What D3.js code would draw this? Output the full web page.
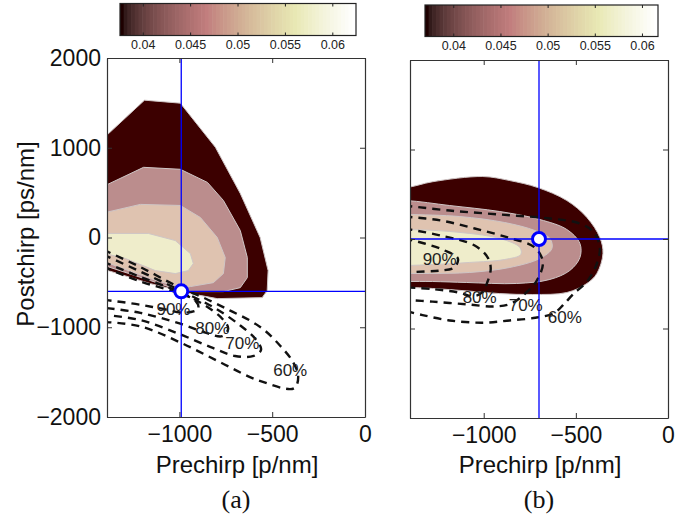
<!DOCTYPE html>
<html><head><meta charset="utf-8">
<script src="https://cdn.jsdelivr.net/npm/d3@7"></script>
<style>body{margin:0;background:#fff}svg{display:block}</style>
</head><body>
<svg id="c" width="687" height="516"></svg>
<script>
// ---------- data ----------
const xTicks = [-1000, -500, 0];
const yTicks = [2000, 1000, 0, -1000, -2000];
const cbTicks = [0.04, 0.045, 0.05, 0.055, 0.06];
const climA = [0.0376, 0.0625];
const climB = [0.0370, 0.0617];
const markerA = [-990, -600];
const markerB = [-700, 0];

// filled contour regions, panel (a)  [prechirp, postchirp]
const aLevel1 = [[-1420,1084],[-1188,1530],[-995,1497],[-806,1005],[-672,491],[-565,0],[-522,-369],[-527,-592],[-554,-670],[-796,-681],[-941,-625],[-1156,-514],[-1420,-346]];
const aLevel2 = [[-1420,559],[-1193,782],[-995,760],[-849,614],[-763,413],[-672,78],[-634,-223],[-634,-447],[-672,-559],[-763,-603],[-925,-603],[-995,-592],[-1156,-480],[-1420,-302]];
const aLevel3 = [[-1420,268],[-1210,369],[-995,357],[-887,223],[-796,0],[-753,-223],[-763,-402],[-817,-503],[-941,-547],[-995,-559],[-1156,-458],[-1420,-257]];
const aLevel4 = [[-1420,45],[-1167,45],[-1022,-34],[-941,-179],[-925,-290],[-952,-369],[-1022,-402],[-1129,-369],[-1290,-235],[-1420,-168]];

// filled contour regions, panel (b)
const bLevel1 = [[-1420,575],[-1277,640],[-1005,698],[-859,653],[-707,575],[-549,430],[-440,240],[-370,17],[-353,-162],[-386,-385],[-440,-497],[-549,-598],[-734,-620],[-913,-610],[-1092,-580],[-1277,-553],[-1420,-542],[-1600,-542],[-1600,575]];
const bLevel2 = [[-1420,430],[-1185,374],[-913,307],[-696,218],[-549,106],[-478,-50],[-478,-207],[-533,-352],[-641,-452],[-821,-497],[-1092,-486],[-1277,-475],[-1420,-475],[-1600,-475],[-1600,430]];
const bLevel3 = [[-1420,274],[-1130,251],[-886,184],[-723,95],[-641,6],[-630,-106],[-696,-218],[-859,-318],[-1076,-374],[-1293,-385],[-1420,-385],[-1600,-385],[-1600,274]];
const bLevel4 = [[-1420,106],[-1185,84],[-913,6],[-804,-95],[-799,-173],[-886,-229],[-1076,-262],[-1277,-285],[-1420,-296],[-1600,-296],[-1600,106]];

// dashed efficiency contours, panel (a)
const a60 = [[-1410,-136],[-1210,-330],[-995,-560],[-860,-680],[-726,-815],[-618,-927],[-538,-1039],[-457,-1206],[-392,-1374],[-360,-1541],[-382,-1680],[-581,-1586],[-780,-1390],[-995,-1170],[-1210,-990],[-1410,-940]];
const a70 = [[-1410,-192],[-1210,-380],[-995,-590],[-806,-790],[-672,-980],[-590,-1130],[-560,-1250],[-600,-1320],[-700,-1320],[-820,-1230],[-995,-1080],[-1210,-920],[-1410,-860]];
const a80 = [[-1410,-270],[-1210,-440],[-995,-610],[-860,-760],[-769,-905],[-737,-1016],[-769,-1100],[-860,-1060],[-995,-960],[-1210,-840],[-1410,-782]];
const a90 = [[-1410,-325],[-1210,-490],[-995,-625],[-914,-704],[-898,-793],[-968,-838],[-1102,-790],[-1237,-740],[-1410,-693]];

// dashed efficiency contours, panel (b)
const b60 = [[-1430,374],[-1185,318],[-913,274],[-641,229],[-478,173],[-402,73],[-370,-95],[-386,-274],[-435,-464],[-516,-620],[-570,-740],[-620,-830],[-720,-880],[-859,-910],[-1005,-935],[-1185,-910],[-1332,-850],[-1430,-800]];
const b70 = [[-1430,251],[-1234,207],[-1049,117],[-870,17],[-723,-95],[-679,-262],[-712,-464],[-770,-600],[-850,-720],[-940,-754],[-1092,-730],[-1277,-700],[-1430,-680]];
const b80 = [[-1430,117],[-1234,39],[-1049,-73],[-978,-207],[-962,-330],[-980,-480],[-1010,-600],[-1060,-640],[-1130,-600],[-1277,-560],[-1430,-540]];
const b90 = [[-1430,6],[-1321,-50],[-1212,-128],[-1140,-218],[-1160,-318],[-1234,-352],[-1321,-363],[-1430,-374]];

const labelText = ["90%", "80%", "70%", "60%"];
const aLabelPos = [[-1032,-804],[-823,-1016],[-661,-1184],[-403,-1486]];
const bLabelPos = [[-1239,-229],[-1022,-653],[-772,-743],[-560,-877]];

// ---------- style ----------
const fillColors = ["#3c0000", "#bb8d8d", "#dfc3b0", "#efedcb"];
const SANS = "'Liberation Sans', Arial, Helvetica, sans-serif";
const svg = d3.select("#c");
const intFmt = d3.format("d");

// MATLAB "pink" colormap
function pinkMap(m) {
  const n = Math.floor(3 / 8 * m), out = [];
  for (let i = 0; i < m; i++) {
    const r = i < n ? (i + 1) / n : 1;
    const g = i < n ? 0 : (i < 2 * n ? (i - n + 1) / n : 1);
    const b = i < 2 * n ? 0 : (i - 2 * n + 1) / (m - 2 * n);
    const gr = i / (m - 1);
    const f = v => Math.round(255 * Math.sqrt((2 * gr + v) / 3));
    out.push(`rgb(${f(r)},${f(g)},${f(b)})`);
  }
  return out;
}
const cmap = pinkMap(64);

function panel(cfg) {
  const x = d3.scaleLinear().domain([cfg.xmin, 0]).range([cfg.left, cfg.right]);
  const y = d3.scaleLinear().domain([-2000, 2000]).range([cfg.bottom, cfg.top]);
  const g = svg.append("g");
  const clipId = "clip" + cfg.id;
  svg.append("clipPath").attr("id", clipId).append("rect")
    .attr("x", cfg.left).attr("y", cfg.top)
    .attr("width", cfg.right - cfg.left).attr("height", cfg.bottom - cfg.top);
  const pg = g.append("g").attr("clip-path", `url(#${clipId})`);

  const area = d3.line().x(d => x(d[0])).y(d => y(d[1])).curve(cfg.fillCurve);
  cfg.fills.forEach((poly, i) => {
    pg.append("path").attr("d", area(poly)).attr("fill", fillColors[i])
      .attr("stroke", "#cfc6c6").attr("stroke-width", 1);
  });
  const ln = d3.line().x(d => x(d[0])).y(d => y(d[1])).curve(d3.curveCatmullRom.alpha(0.5));
  cfg.lines.forEach(l => {
    pg.append("path").attr("d", ln(l)).attr("fill", "none")
      .attr("stroke", "#111").attr("stroke-width", 2.4).attr("stroke-dasharray", "8,6");
  });
  cfg.labels.forEach((p, i) => {
    pg.append("text").attr("x", x(p[0])).attr("y", y(p[1]))
      .attr("text-anchor", "middle").attr("dominant-baseline", "central")
      .attr("font-family", SANS).attr("font-size", 17).attr("fill", "#222")
      .text(labelText[i]);
  });
  // blue cross-hair
  pg.append("line").attr("x1", cfg.left).attr("x2", cfg.right)
    .attr("y1", y(cfg.marker[1])).attr("y2", y(cfg.marker[1]))
    .attr("stroke", "#0000ff").attr("stroke-width", 1.3);
  pg.append("line").attr("y1", cfg.top).attr("y2", cfg.bottom)
    .attr("x1", x(cfg.marker[0])).attr("x2", x(cfg.marker[0]))
    .attr("stroke", "#0000ff").attr("stroke-width", 1.3);
  pg.append("circle").attr("cx", x(cfg.marker[0])).attr("cy", y(cfg.marker[1]))
    .attr("r", 6.5).attr("fill", "#fff").attr("stroke", "#0000ff").attr("stroke-width", 3);

  // axes
  const styleAxis = (sel, fs) => {
    sel.selectAll("path.domain").attr("stroke", "#333").attr("stroke-width", 1.2);
    sel.selectAll(".tick line").attr("stroke", "#333");
    sel.selectAll("text").attr("font-family", SANS).attr("font-size", fs).attr("fill", "#111");
  };
  const ax = g.append("g").attr("transform", `translate(0,${cfg.bottom})`)
    .call(d3.axisBottom(x).tickValues(xTicks).tickSizeInner(-5).tickSizeOuter(0).tickPadding(9)
      .tickFormat(intFmt));
  styleAxis(ax, 23);
  const axT = g.append("g").attr("transform", `translate(0,${cfg.top})`)
    .call(d3.axisTop(x).tickValues(xTicks).tickSizeInner(-5).tickSizeOuter(0).tickFormat(""));
  styleAxis(axT, 23);
  const ay = g.append("g").attr("transform", `translate(${cfg.left},0)`)
    .call(d3.axisLeft(y).tickValues(yTicks).tickSizeInner(-5).tickSizeOuter(0).tickPadding(6)
      .tickFormat(cfg.yLabels ? intFmt : ""));
  styleAxis(ay, 23);
  const ayR = g.append("g").attr("transform", `translate(${cfg.right},0)`)
    .call(d3.axisRight(y).tickValues(yTicks).tickSizeInner(-5).tickSizeOuter(0).tickFormat(""));
  styleAxis(ayR, 23);

  // x label & panel caption
  const cx = (cfg.left + cfg.right) / 2;
  g.append("text").attr("x", cx + 1).attr("y", 473).attr("text-anchor", "middle")
    .attr("font-family", SANS).attr("font-size", 24).attr("fill", "#111").text("Prechirp [p/nm]");
  g.append("text").attr("x", cx).attr("y", 508).attr("text-anchor", "middle")
    .attr("font-family", "'Liberation Serif', 'Times New Roman', serif").attr("font-size", 26)
    .attr("fill", "#111").text(cfg.caption);

  // colorbar
  const cb = d3.scaleLinear().domain(cfg.clim).range([cfg.cbLeft, cfg.cbRight]);
  const step = (cfg.clim[1] - cfg.clim[0]) / cmap.length;
  const cg = g.append("g");
  cmap.forEach((c, i) => {
    const x0 = cb(cfg.clim[0] + i * step), x1 = cb(cfg.clim[0] + (i + 1) * step);
    cg.append("rect").attr("x", x0).attr("y", cfg.cbTop).attr("width", x1 - x0 + 0.6)
      .attr("height", cfg.cbBottom - cfg.cbTop).attr("fill", c);
  });
  cg.append("rect").attr("x", cfg.cbLeft).attr("y", cfg.cbTop)
    .attr("width", cfg.cbRight - cfg.cbLeft).attr("height", cfg.cbBottom - cfg.cbTop)
    .attr("fill", "none").attr("stroke", "#222").attr("stroke-width", 1.2);
  const cba = cg.append("g").attr("transform", `translate(0,${cfg.cbBottom})`)
    .call(d3.axisBottom(cb).tickValues(cbTicks).tickSizeInner(-3).tickSizeOuter(0).tickPadding(5)
      .tickFormat(d3.format("~g")));
  cba.select("path.domain").remove();
  cba.selectAll(".tick line").attr("stroke", "#222");
  cba.selectAll("text").attr("font-family", SANS).attr("font-size", 12.5).attr("fill", "#222");
  const cbt = cg.append("g").attr("transform", `translate(0,${cfg.cbTop})`)
    .call(d3.axisTop(cb).tickValues(cbTicks).tickSizeInner(-3).tickSizeOuter(0).tickFormat(""));
  cbt.select("path.domain").remove();
  cbt.selectAll(".tick line").attr("stroke", "#222");
}

panel({
  id: "a", xmin: -1390, left: 107, right: 365, top: 58, bottom: 417,
  fills: [aLevel1, aLevel2, aLevel3, aLevel4], fillCurve: d3.curveLinearClosed,
  lines: [a60, a70, a80, a90], labels: aLabelPos, marker: markerA, yLabels: true,
  caption: "(a)", clim: climA, cbLeft: 120, cbRight: 356, cbTop: 3.5, cbBottom: 35.5
});
panel({
  id: "b", xmin: -1400, left: 410, right: 668, top: 60, bottom: 418,
  fills: [bLevel1, bLevel2, bLevel3, bLevel4], fillCurve: d3.curveCatmullRomClosed.alpha(0.5),
  lines: [b60, b70, b80, b90], labels: bLabelPos, marker: markerB, yLabels: false,
  caption: "(b)", clim: climB, cbLeft: 425, cbRight: 658, cbTop: 5, cbBottom: 36.5
});

// y-axis title
svg.append("text").attr("transform", "translate(34,234) rotate(-90)")
  .attr("text-anchor", "middle").attr("font-family", SANS).attr("font-size", 24)
  .attr("fill", "#111").text("Postchirp [ps/nm]");
</script>
</body></html>
